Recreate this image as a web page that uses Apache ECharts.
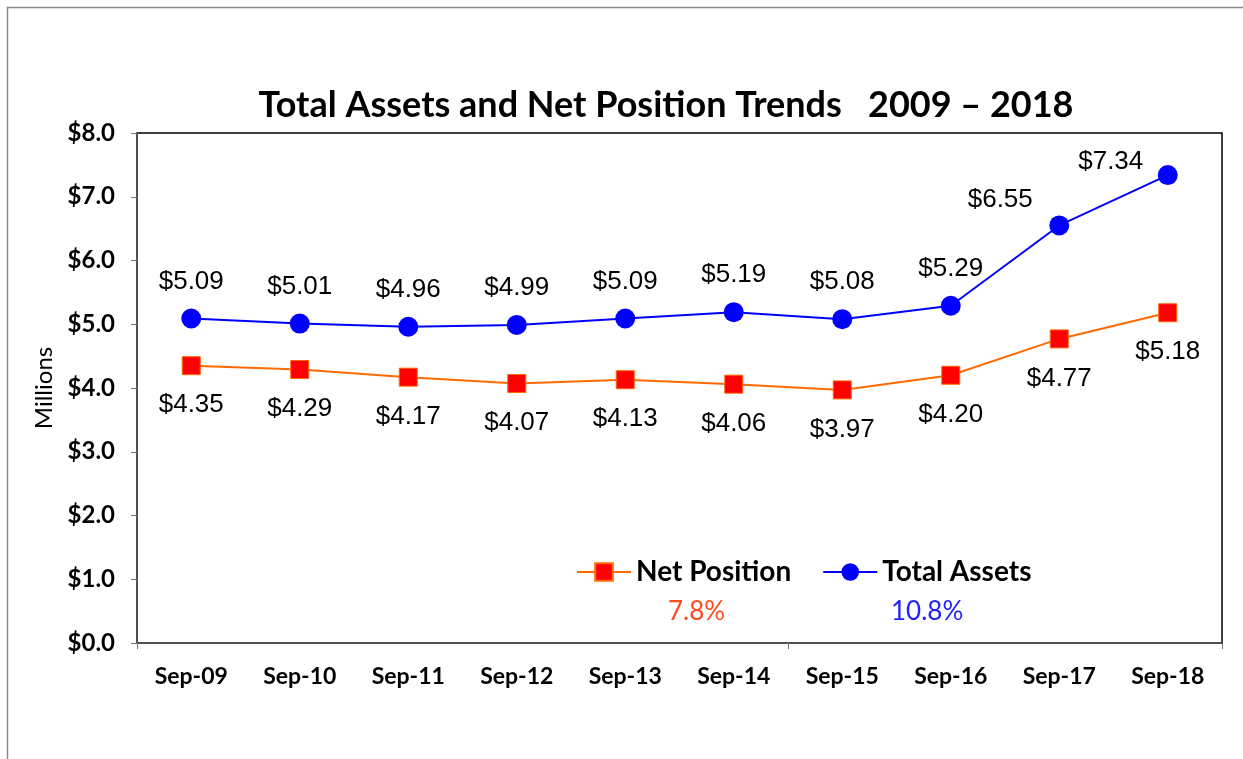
<!DOCTYPE html>
<html><head><meta charset="utf-8">
<script src="https://cdn.jsdelivr.net/npm/echarts@6/dist/echarts.min.js"></script>
<style>html,body{margin:0;padding:0;background:#fff}#c{width:1243px;height:759px}</style>
</head><body><div id="c"></div>
<script>
const categories = ['Sep-09','Sep-10','Sep-11','Sep-12','Sep-13','Sep-14','Sep-15','Sep-16','Sep-17','Sep-18'];
const totalAssets = [5.09, 5.01, 4.96, 4.99, 5.09, 5.19, 5.08, 5.29, 6.55, 7.34];
const netPosition = [4.35, 4.29, 4.17, 4.07, 4.13, 4.06, 3.97, 4.20, 4.77, 5.18];
const growthNet = '7.8%';
const growthTotal = '10.8%';

const chart = echarts.init(document.getElementById('c'));
const titleFont = 'Lato, "Open Sans", sans-serif';
const labelFont = '"Liberation Sans", Arial, sans-serif';

function withOffsets(arr, offsets) {
  return arr.map((v, i) => offsets[i] ? { value: v, label: { offset: offsets[i] } } : v);
}

chart.setOption({
  animation: false,
  title: {
    text: 'Total Assets and Net Position Trends   2009 \u2013 2018',
    left: 661, top: 82, textAlign: 'center',
    textStyle: { fontFamily: titleFont, fontWeight: 'bold', fontSize: 36, color: '#000' }
  },
  graphic: [
    { type: 'rect', left: 5, top: 5, shape: { width: 1260, height: 780 }, style: { fill: 'none', stroke: '#888', lineWidth: 1.5 }, silent: true },
    { type: 'text', left: 668, top: 599, style: { text: growthNet, fill: '#FF4A1C', font: '26px ' + titleFont } },
    { type: 'text', left: 891, top: 599, style: { text: growthTotal, fill: '#1F1FFF', font: '26px ' + titleFont } }
  ],
  legend: {
    left: 576, top: 558, padding: 0,
    itemWidth: 54, itemHeight: 22, itemGap: 31,
    data: ['Net Position', 'Total Assets'],
    textStyle: { fontFamily: titleFont, fontWeight: 'bold', fontSize: 28, color: '#000' }
  },
  grid: { left: 137, top: 133, right: 21, bottom: 116, show: true, borderColor: '#000', borderWidth: 1.5, backgroundColor: 'transparent' },
  xAxis: {
    type: 'category', data: categories, boundaryGap: true,
    axisLine: { lineStyle: { color: '#555', width: 1.5 } },
    axisTick: { show: true, interval: 5, length: 6, inside: false, lineStyle: { color: '#777' } },
    axisLabel: { fontFamily: titleFont, fontWeight: 'bold', fontSize: 23, color: '#000', margin: 22 }
  },
  yAxis: {
    type: 'value', min: 0, max: 8, interval: 1,
    name: 'Millions', nameLocation: 'middle', nameGap: 77,
    nameTextStyle: { fontFamily: titleFont, fontSize: 24, color: '#000' },
    axisLine: { show: true, lineStyle: { color: '#555', width: 1.5 } },
    axisTick: { show: true, length: 6, lineStyle: { color: '#777' } },
    splitLine: { show: false },
    axisLabel: { fontFamily: titleFont, fontWeight: 'bold', fontSize: 24, color: '#000', margin: 22,
      formatter: v => '$' + v.toFixed(1) }
  },
  series: [
    {
      name: 'Net Position', type: 'line', data: netPosition,
      symbol: 'rect', symbolSize: 18,
      lineStyle: { color: '#FF6A00', width: 2 },
      itemStyle: { color: '#FF0000', borderColor: '#FF6A00', borderWidth: 1 },
      label: { show: true, position: 'bottom', distance: 17, fontFamily: labelFont, fontSize: 26, color: '#000',
        formatter: p => '$' + p.value.toFixed(2) }
    },
    {
      name: 'Total Assets', type: 'line',
      data: withOffsets(totalAssets, { 8: [-59, 11], 9: [-57, 24] }),
      symbol: 'circle', symbolSize: 20,
      lineStyle: { color: '#0000FF', width: 2 },
      itemStyle: { color: '#0000FF' },
      label: { show: true, position: 'top', distance: 14, fontFamily: labelFont, fontSize: 26, color: '#000',
        formatter: p => '$' + p.value.toFixed(2) }
    }
  ]
});
</script></body></html>
